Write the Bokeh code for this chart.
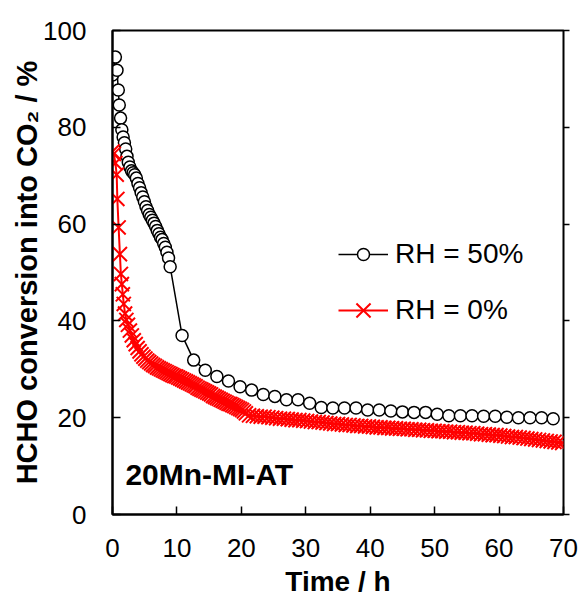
from bokeh.plotting import figure
from bokeh.models import (Range1d, FixedTicker, Label, Legend, LegendItem,
                          ColumnDataSource, LinearAxis, CustomJSTickFormatter)
from bokeh.embed import file_html
from bokeh.resources import INLINE

# ---------------- data ----------------
# RH = 50 %
rh50_time_dense = [0.0, 0.45, 0.7, 0.9, 1.05, 1.25, 1.45, 1.65, 1.85, 2.05, 2.25, 2.45,
                   2.7, 2.95, 3.2, 3.45, 3.7, 3.95, 4.2, 4.45, 4.7, 4.95, 5.2, 5.45,
                   5.7, 5.95, 6.2, 6.45, 6.7, 6.95, 7.2, 7.45, 7.7, 7.95, 8.2, 8.45,
                   8.7, 8.95]
rh50_conv_dense = [90.8, 94.5, 91.8, 87.7, 84.6, 81.9, 79.5, 78.0, 76.8, 75.5, 74.0, 72.8,
                   71.8, 71.0, 70.6, 70.2, 69.5, 68.4, 67.5, 66.5, 65.6, 64.6, 63.6, 62.8,
                   62.0, 61.4, 60.8, 60.2, 59.5, 58.7, 58.0, 57.3, 56.8, 56.0, 55.2, 54.2,
                   53.0, 51.2]
rh50_time_late = [10.8, 12.6, 14.4, 16.2, 18.0, 19.8, 21.6, 23.4, 25.2, 27.0, 28.8,
                  30.6, 32.4, 34.2, 36.0, 37.8, 39.6, 41.4, 43.2, 45.0, 46.8, 48.6,
                  50.4, 52.2, 54.0, 55.8, 57.6, 59.4, 61.2, 63.0, 64.8, 66.6, 68.4]
rh50_conv_late = [37.0, 31.9, 29.8, 28.5, 27.6, 26.4, 25.7, 24.8, 24.4, 23.7, 23.7,
                  23.0, 22.1, 22.0, 22.0, 22.0, 21.6, 21.6, 21.4, 21.2, 21.1, 21.1,
                  20.7, 20.4, 20.4, 20.4, 20.3, 20.3, 20.1, 20.0, 20.0, 20.0, 19.8]

# RH = 0 %
rh0_time_early = [0.0, 0.2, 0.45, 0.65, 0.75, 0.95, 1.15, 1.3, 1.45, 1.6, 1.75, 1.95, 2.15]
rh0_conv_early = [75.0, 74.5, 72.6, 70.2, 65.2, 59.3, 53.8, 49.7, 47.6, 45.5, 43.5, 41.5, 40.2]
rh0_time_dense = [2.4, 2.7, 3.0, 3.3, 3.6, 3.9, 4.2, 4.5, 4.8, 5.1, 5.4, 5.7, 6.0, 6.3,
                  6.6, 6.9, 7.2, 7.5, 7.8, 8.1, 8.4, 8.7, 9.0, 9.3, 9.6, 9.9, 10.2,
                  10.5, 10.8, 11.1, 11.4, 11.7, 12.0, 12.3, 12.6, 12.9, 13.2, 13.5,
                  13.8, 14.1, 14.4, 14.7, 15.0, 15.3, 15.6, 15.9, 16.2, 16.5, 16.8,
                  17.1, 17.4, 17.7, 18.0, 18.3, 18.6, 18.9, 19.2, 19.5, 19.8, 20.1,
                  20.4, 20.7]
rh0_conv_dense = [39.2, 38.0, 37.0, 36.0, 35.2, 34.4, 33.7, 33.1, 32.6, 32.2, 31.8, 31.5,
                  31.2, 30.9, 30.7, 30.4, 30.2, 30.0, 29.8, 29.6, 29.4, 29.2, 29.0, 28.8,
                  28.6, 28.5, 28.3, 28.1, 27.9, 27.7, 27.5, 27.3, 27.1, 26.9, 26.7, 26.5,
                  26.2, 26.0, 25.8, 25.6, 25.4, 25.2, 25.0, 24.8, 24.5, 24.3, 24.1, 23.9,
                  23.7, 23.5, 23.3, 23.1, 22.9, 22.8, 22.6, 22.4, 22.2, 22.0, 21.8, 21.6,
                  21.3, 20.9]
rh0_time_late = [21.2, 21.8, 22.4, 23.0, 23.6, 24.2, 24.8, 25.4, 26.0, 26.6, 27.2, 27.8,
                 28.4, 29.0, 29.6, 30.2, 30.8, 31.4, 32.0, 32.6, 33.2, 33.8, 34.4, 35.0,
                 35.6, 36.2, 36.8, 37.4, 38.0, 38.6, 39.2, 39.8, 40.4, 41.0, 41.6, 42.2,
                 42.8, 43.4, 44.0, 44.6, 45.2, 45.8, 46.4, 47.0, 47.6, 48.2, 48.8, 49.4,
                 50.0, 50.6, 51.2, 51.8, 52.4, 53.0, 53.6, 54.2, 54.8, 55.4, 56.0, 56.6,
                 57.2, 57.8, 58.4, 59.0, 59.6, 60.2, 60.8, 61.4, 62.0, 62.6, 63.2, 63.8,
                 64.4, 65.0, 65.6, 66.2, 66.8, 67.4, 68.0, 68.6, 69.2, 69.8]
rh0_conv_late = [20.5, 20.4, 20.3, 20.2, 20.2, 20.1, 20.0, 19.9, 19.8, 19.8, 19.7, 19.6,
                 19.5, 19.5, 19.4, 19.3, 19.2, 19.1, 19.1, 19.0, 18.9, 18.8, 18.7, 18.7,
                 18.6, 18.5, 18.5, 18.4, 18.3, 18.3, 18.2, 18.2, 18.1, 18.0, 18.0, 17.9,
                 17.9, 17.8, 17.8, 17.7, 17.7, 17.6, 17.6, 17.5, 17.5, 17.4, 17.4, 17.3,
                 17.3, 17.2, 17.2, 17.1, 17.1, 17.0, 17.0, 16.9, 16.9, 16.8, 16.8, 16.7,
                 16.6, 16.6, 16.5, 16.4, 16.4, 16.3, 16.2, 16.1, 16.0, 16.0, 15.9, 15.8,
                 15.7, 15.6, 15.5, 15.4, 15.3, 15.2, 15.1, 15.0, 14.9, 14.8]

x_ticks = [0, 10, 20, 30, 40, 50, 60, 70]
y_ticks = [0, 20, 40, 60, 80, 100]
series_labels = ["RH = 50%", "RH = 0%"]
sample_name = "20Mn-MI-AT"

FONT = "Liberation Sans"

src50 = ColumnDataSource(dict(t=rh50_time_dense + rh50_time_late,
                              c=rh50_conv_dense + rh50_conv_late))
src0 = ColumnDataSource(dict(t=rh0_time_early + rh0_time_dense + rh0_time_late,
                             c=rh0_conv_early + rh0_conv_dense + rh0_conv_late))

p = figure(width=581, height=599, output_backend="svg", toolbar_location=None,
           x_range=Range1d(0, 70), y_range=Range1d(0, 100),
           min_border_left=112, min_border_right=18, min_border_top=30,
           min_border_bottom=82)
p.grid.visible = False
p.outline_line_color = "black"
p.outline_line_width = 2
p.background_fill_color = "white"
p.border_fill_color = "white"

for ax in (p.xaxis[0], p.yaxis[0]):
    ax.axis_line_width = 2
    ax.axis_line_color = "black"
    ax.major_tick_in = 8
    ax.major_tick_out = 0
    ax.major_tick_line_width = 1.5
    ax.minor_tick_line_color = None
    ax.major_label_text_font = FONT
    ax.major_label_text_font_size = "26px"
    ax.major_label_text_color = "black"
    ax.axis_label_text_font = FONT
    ax.axis_label_text_font_style = "bold"
    ax.axis_label_text_color = "black"

p.xaxis.ticker = FixedTicker(ticks=x_ticks)
p.yaxis.ticker = FixedTicker(ticks=y_ticks)
p.xaxis.axis_label = "Time / h"
p.yaxis.axis_label = "HCHO conversion into CO\u2082 / %"
p.xaxis.axis_label_text_font_size = "28px"
p.yaxis.axis_label_text_font_size = "29px"
p.xaxis.major_label_standoff = 24
p.yaxis.major_label_standoff = 26
p.xaxis.axis_label_standoff = 6
p.yaxis.axis_label_standoff = -3

right = LinearAxis(ticker=FixedTicker(ticks=y_ticks),
                   formatter=CustomJSTickFormatter(code="return ''"),
                   axis_line_color=None, major_tick_in=0, major_tick_out=6,
                   major_tick_line_width=1.5, minor_tick_line_color=None,
                   major_label_standoff=0)
p.add_layout(right, "right")

l50 = p.line("t", "c", source=src50, line_color="black", line_width=1.5)
s50 = p.scatter("t", "c", source=src50, marker="circle", size=12,
                fill_color="white", line_color="black", line_width=1.5)
l0 = p.line("t", "c", source=src0, line_color="#FF0000", line_width=2)
s0 = p.scatter("t", "c", source=src0, marker="x", size=20,
               line_color="#FF0000", line_width=2)

common = dict(padding=0, margin=0, glyph_width=50, label_standoff=7,
              border_line_color=None, background_fill_alpha=0,
              label_text_font=FONT, label_text_font_size="28px",
              label_text_color="black")
leg1 = Legend(items=[LegendItem(label=series_labels[0], renderers=[l50, s50])],
              location=(226, 244), glyph_height=30, label_height=30, **common)
leg2 = Legend(items=[LegendItem(label=series_labels[1], renderers=[l0, s0])],
              location=(226, 179), glyph_height=50, label_height=30, **common)
p.add_layout(leg1)
p.add_layout(leg2)

p.add_layout(Label(x=2.0, y=8.2, text=sample_name, text_font=FONT,
                   text_font_size="30px", text_font_style="bold",
                   text_baseline="middle", text_color="black"))

open("out.html", "w").write(file_html(p, INLINE))
